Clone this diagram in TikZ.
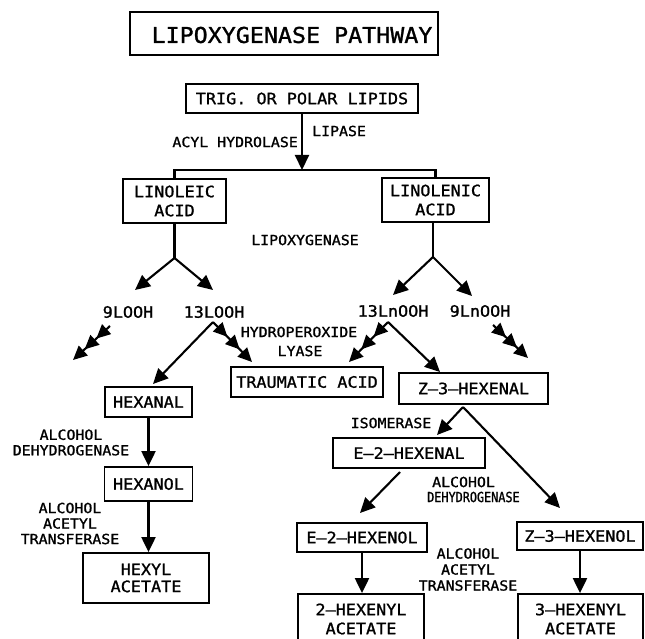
\documentclass[tikz,border=0pt]{standalone}
\usepackage{fontspec}
\newfontfamily\plotfont[FakeStretch=1.07,FakeBold=1.2]{DejaVu Sans Mono}
\newfontfamily\plotcond[FakeStretch=0.85,FakeBold=1.2]{DejaVu Sans Mono}
\usetikzlibrary{arrows.meta,decorations.markings}
\tikzset{
  tipA/.tip={Triangle[length=15pt,width=14pt]},
  tipB/.tip={Triangle[length=14pt,width=13pt]},
}
\begin{document}
\begin{tikzpicture}[x=1pt,y=-1pt,
  box/.style={draw, line width=1.8pt, inner sep=0pt, align=center,
    font=\plotfont\fontsize{15.7}{19}\selectfont},
  boxtext/.style={inner sep=0pt, align=center, font=\plotfont\fontsize{15.7}{19}\selectfont},
  lbl/.style={inner sep=0pt, align=center, font=\plotfont\fontsize{13.9}{15.5}\selectfont},
  ttl/.style={inner sep=0pt, font=\plotfont\fontsize{21.8}{24}\selectfont},
  ln/.style={line width=2.1pt},
  arr/.style={line width=2.1pt, -tipA},
  triple/.style={line width=2.1pt, -tipB, postaction={decorate},
    decoration={markings,
      mark=at position 0.37 with {\arrow{tipB}},
      mark=at position 0.685 with {\arrow{tipB}}}}
]
\useasboundingbox (0,0) rectangle (645,639);

% title
\node[draw, line width=1.1pt, minimum width=308pt, minimum height=43pt] (titlebox) at (284,33.5) {};
\node[ttl] (title) at (292,35) {LIPOXYGENASE PATHWAY};

% top
\node[box, minimum width=232pt, minimum height=29pt] (trig) at (302,98.5) {TRIG. OR POLAR LIPIDS};
\coordinate (split) at (302,170);
\draw[arr] (trig.south) -- (split);
\node[lbl, anchor=west] (lipase) at (312,131) {LIPASE};
\node[lbl, anchor=east] (acyl) at (298,142) {ACYL HYDROLASE};

\node[box, minimum width=103pt, minimum height=44pt] (linoleic) at (174.5,201) {LINOLEIC\\ACID};
\node[box, minimum width=107pt, minimum height=44pt] (linolenic) at (435.5,200) {LINOLENIC\\ACID};
\draw[ln] (linoleic.north) |- (split) -| (linolenic.north);

\node[lbl] (lipox) at (305,240) {LIPOXYGENASE};

% linoleic branch
\coordinate (la) at (174.5,258);
\coordinate (t9L) at (135,290);
\coordinate (t13L) at (213,290);
\draw[ln] (linoleic.south) -- (la);
\draw[arr] (la) -- (t9L);
\draw[arr] (la) -- (t13L);
\node[boxtext] (l9L) at (128,312) {9LOOH};
\node[boxtext] (l13L) at (214,312) {13LOOH};

% linolenic branch
\coordinate (lb) at (433,257);
\coordinate (t13Ln) at (393,295);
\coordinate (t9Ln) at (472,296);
\draw[ln] (lb |- linolenic.south) -- (lb);
\draw[arr] (lb) -- (t13Ln);
\draw[arr] (lb) -- (t9Ln);
\node[boxtext] (l13Ln) at (393,311) {13LnOOH};
\node[boxtext] (l9Ln) at (480,311) {9LnOOH};

% triple arrows
\coordinate (s1) at (110,326);
\coordinate (e1) at (73,360);
\draw[triple] (s1) -- (e1);
\coordinate (v1) at (213,322);
\coordinate (e2) at (252,362);
\draw[triple] (v1) -- (e2);
\coordinate (v2) at (388,322);
\coordinate (e3) at (349,362);
\draw[triple] (v2) -- (e3);
\coordinate (s4) at (493,325);
\coordinate (e4) at (528,358);
\draw[triple] (s4) -- (e4);

\node[lbl] (hydro) at (299,332) {HYDROPEROXIDE};
\node[lbl] (lyase) at (300,351) {LYASE};

\node[box, minimum width=152pt, minimum height=30pt] (traumatic) at (307,382) {TRAUMATIC ACID};
\node[box, minimum width=149pt, minimum height=31pt] (z3al) at (473.5,388.5) {Z–3–HEXENAL};

% left chain
\node[box, minimum width=87pt, minimum height=30pt] (hexanal) at (148.5,402) {HEXANAL};
\coordinate (th) at (153,384);
\draw[arr] (v1) -- (th);
\coordinate (tz) at (440,372);
\draw[arr] (v2) -- (tz);

\node[box, minimum width=88pt, minimum height=34pt] (hexanol) at (148.5,484) {HEXANOL};
\draw[arr] (hexanal.south) -- (hexanol.north);
\node[lbl] (adh1) at (71,442.5) {ALCOHOL\\DEHYDROGENASE};

\node[box, minimum width=126pt, minimum height=50pt, font=\plotfont\fontsize{15.7}{17}\selectfont] (hexyl) at (146,578) {HEXYL\\ACETATE};
\draw[arr] (hexanol.south) -- (hexanol.south |- hexyl.north);
\node[lbl] (aat1) at (70,523.5) {ALCOHOL\\ACETYL\\TRANSFERASE};

% right chain
\coordinate (v3) at (463,407);
\coordinate (te2) at (437,435);
\coordinate (tz3) at (560,508);
\draw[arr] (v3) -- (te2);
\draw[arr] (v3) -- (tz3);
\node[lbl] (iso) at (391,423) {ISOMERASE};

\node[box, minimum width=152pt, minimum height=30pt] (e2al) at (409,453) {E–2–HEXENAL};
\coordinate (se2) at (400,472);
\coordinate (te2ol) at (360,513);
\draw[arr] (se2) -- (te2ol);
\node[lbl, anchor=west] (adh2a) at (432,482) {ALCOHOL};
\node[lbl, anchor=west, font=\plotcond\fontsize{13.9}{15.5}\selectfont] (adh2b) at (427,497) {DEHYDROGENASE};

\node[box, minimum width=130pt, minimum height=29pt] (e2ol) at (362,537.5) {E–2–HEXENOL};
\node[box, minimum width=126pt, minimum height=28pt] (z3ol) at (580,536) {Z–3–HEXENOL};

\node[box, minimum width=126pt, minimum height=50pt, font=\plotfont\fontsize{15.7}{19}\selectfont] (hex2) at (361,619) {2–HEXENYL\\ACETATE};
\node[box, minimum width=125pt, minimum height=50pt, font=\plotfont\fontsize{15.7}{19}\selectfont] (hex3) at (580.5,619) {3–HEXENYL\\ACETATE};
\draw[arr] (e2ol.south) -- (e2ol.south |- hex2.north);
\draw[arr] (z3ol.south) -- (z3ol.south |- hex3.north);
\node[lbl, font=\plotfont\fontsize{13.9}{16}\selectfont] (aat2) at (468,569.5) {ALCOHOL\\ACETYL\\TRANSFERASE};

\end{tikzpicture}
\end{document}
